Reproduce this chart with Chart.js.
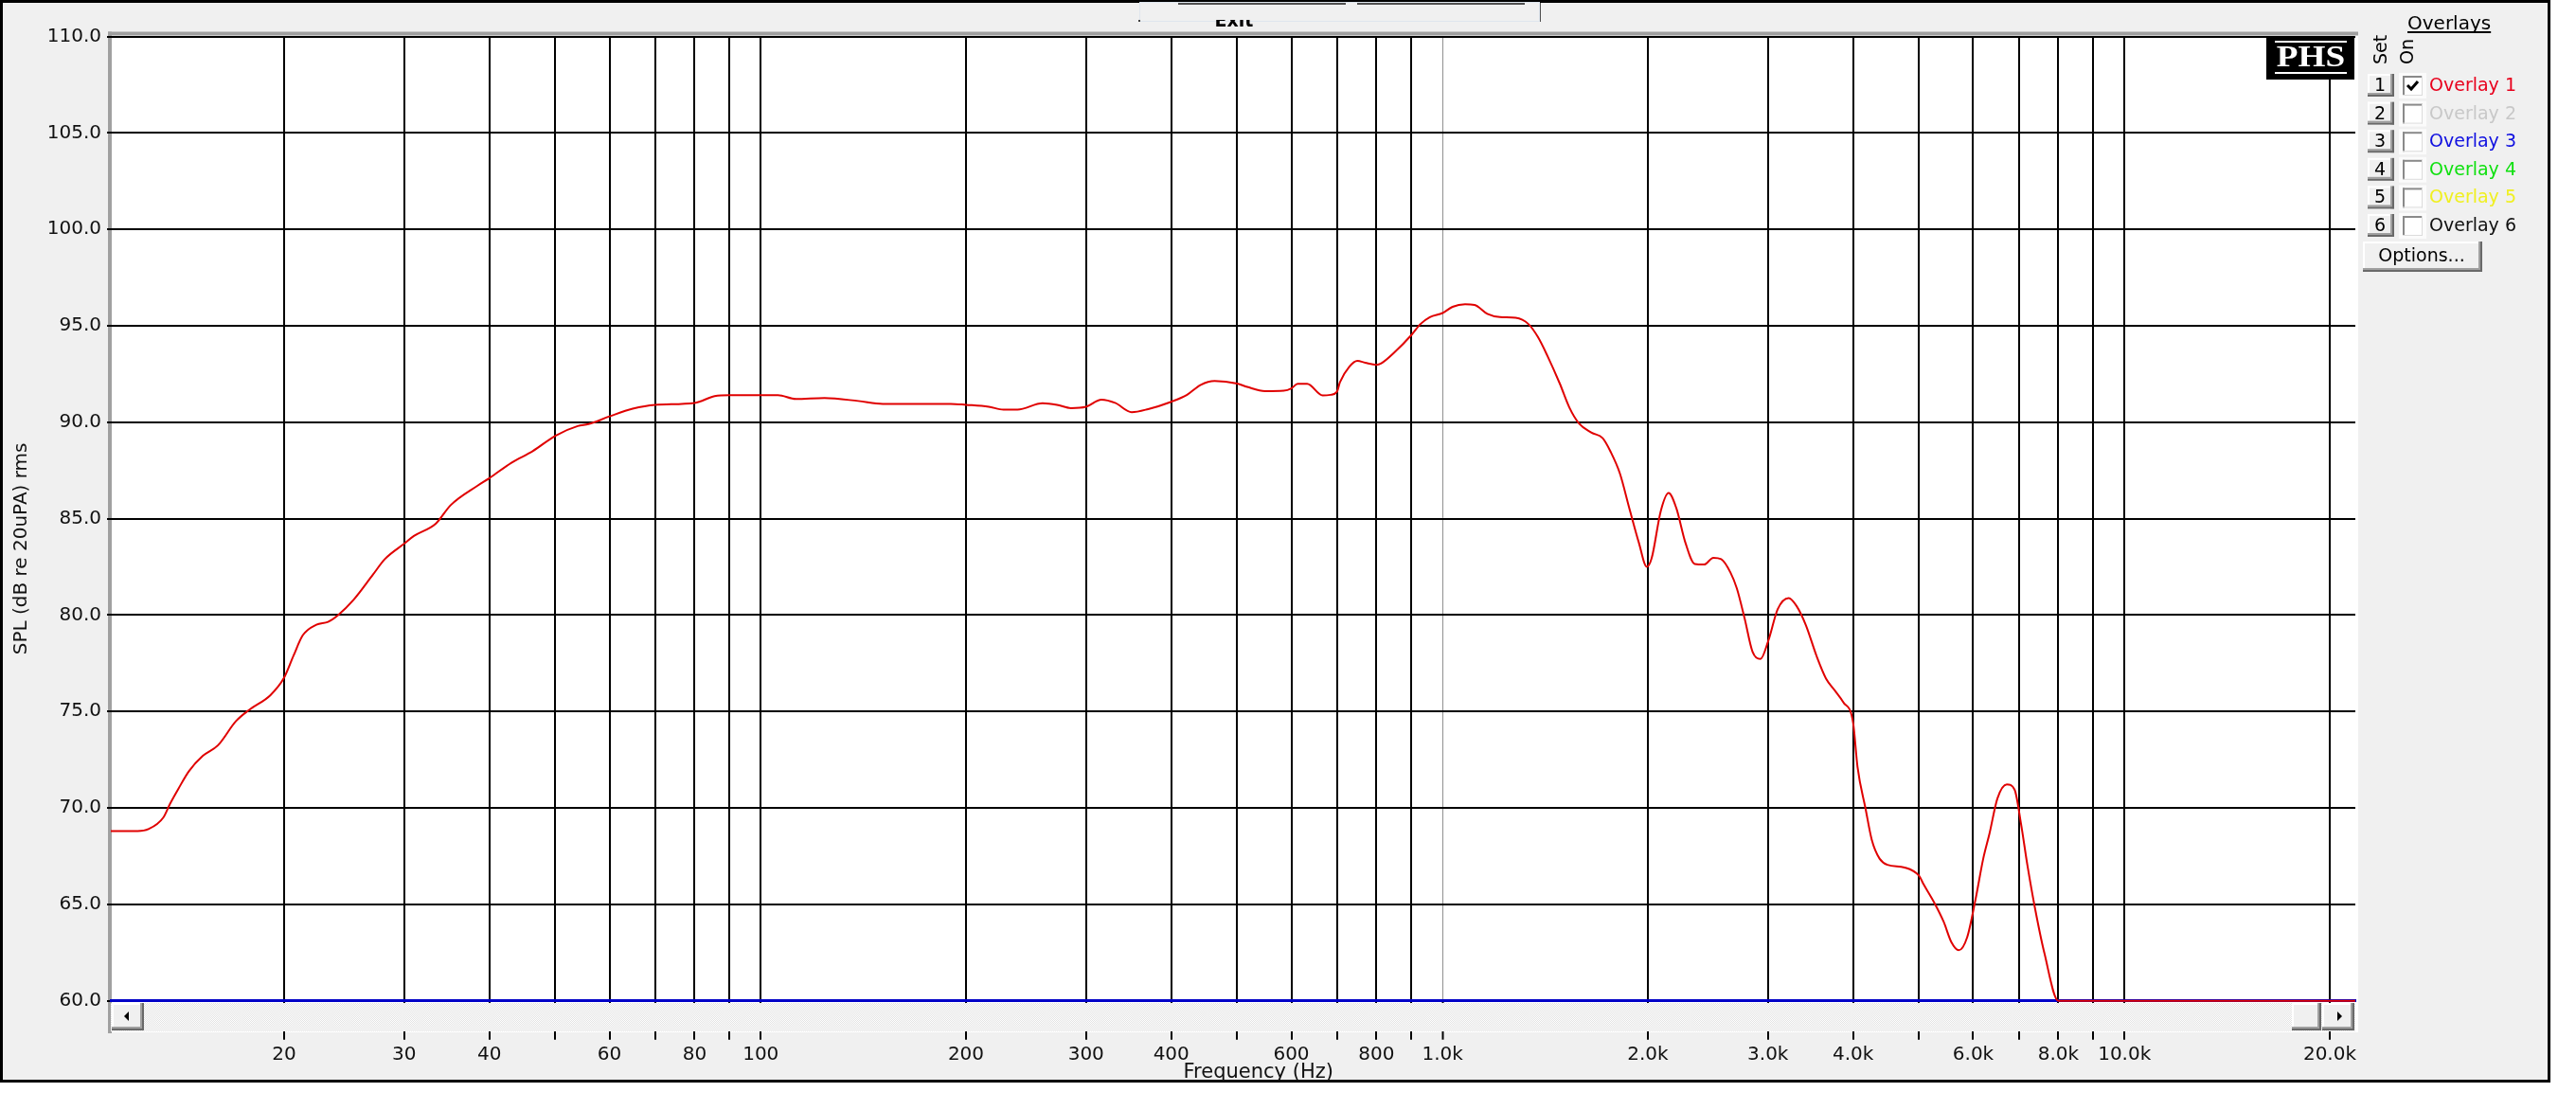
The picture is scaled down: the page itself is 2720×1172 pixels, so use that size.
<!DOCTYPE html>
<html>
<head>
<meta charset="utf-8">
<script src="https://cdn.jsdelivr.net/npm/chart.js@4.4.1/dist/chart.umd.min.js"></script>
<style>
  html, body { margin: 0; padding: 0; background: #fff; }
</style>
</head>
<body>
<canvas id="myChart" width="2720" height="1172"></canvas>
<script>
// measured response (Hz / dB SPL)
const freqs = [11.14, 12.2, 12.65, 13.3, 13.6, 14.0, 14.5, 15.2, 16.0, 17.0, 17.8, 19.1, 20, 20.65, 21.3, 22.3, 23.2, 24.0, 25.3, 27.0,
  28.1, 30, 31.0, 33.4, 35.1, 38.4, 40, 43.1, 46.3, 50, 53.9, 55.9, 60, 64.9, 70, 80, 85.6, 90, 100, 106,
  112.6, 124, 139, 151, 190, 200, 216, 227, 238, 259, 272, 285, 300, 316, 331, 350, 370, 400, 422, 442,
  463, 500, 517, 549, 585, 600, 613, 633, 667, 685, 700, 707, 730, 750, 770, 800, 813, 850, 900, 928,
  958, 1000, 1034, 1079, 1114, 1163, 1214, 1280, 1336, 1379, 1424, 1486, 1534, 1584, 1654, 1717, 1763, 1820, 1878, 1940,
  1993, 2026, 2089, 2145, 2201, 2270, 2343, 2418, 2495, 2562, 2644, 2701, 2773, 2848, 2925, 3004, 3101, 3218, 3303, 3409,
  3537, 3650, 3768, 3870, 4000, 4060, 4170, 4260, 4374, 4491, 4758, 5000, 5071, 5262, 5430, 5576, 5714, 5880, 6046,
  6207, 6340, 6511, 6721, 6900, 7050, 7204, 7396, 7632, 8000, 21806];
const spl = [68.8, 68.8, 68.9, 69.5, 70.2, 71.0, 71.9, 72.7, 73.25, 74.5, 75.1, 75.85, 76.75, 77.9, 78.95, 79.5, 79.65, 80.0, 80.8, 82.1,
  82.9, 83.7, 84.1, 84.75, 85.7, 86.7, 87.1, 87.9, 88.5, 89.3, 89.8, 89.9, 90.3, 90.7, 90.9, 91.0, 91.35, 91.4, 91.4, 91.4,
  91.2, 91.25, 91.1, 90.95, 90.95, 90.9, 90.8, 90.65, 90.65, 90.98, 90.9, 90.73, 90.8, 91.17, 91.0, 90.52, 90.68, 91.06, 91.42, 91.94,
  92.14, 92.0, 91.83, 91.61, 91.63, 91.75, 91.99, 91.99, 91.39, 91.42, 91.58, 92.07, 92.88, 93.18, 93.08, 92.97, 93.05, 93.62, 94.52, 95.09,
  95.45, 95.66, 95.98, 96.11, 96.08, 95.62, 95.45, 95.41, 95.09, 94.43, 93.46, 91.99, 90.77, 89.95, 89.46, 89.17, 88.48, 87.34, 85.56, 83.76,
  82.5, 82.95, 85.39, 86.33, 85.56, 83.76, 82.65, 82.62, 82.97, 82.9, 82.2, 81.38, 79.82, 78.1, 77.72, 78.67, 80.31, 80.88, 80.48, 79.49,
  77.86, 76.71, 76.05, 75.48, 74.42, 72.12, 69.99, 68.35, 67.37, 67.05, 66.91, 66.47, 66.06, 65.08, 64.1, 63.03, 62.62, 63.3, 65.24,
  67.37, 68.68, 70.49, 71.22, 70.95, 69.2, 67.05, 64.76, 62.46, 60.0, 60.0];

// axis ticks
const gridFreqs = [20, 30, 40, 50, 60, 70, 80, 90, 100, 200, 300, 400, 500, 600, 700, 800, 900,
  1000, 2000, 3000, 4000, 5000, 6000, 7000, 8000, 9000, 10000, 20000];
const gridLabels = ['20', '30', '40', '', '60', '', '80', '', '100', '200', '300', '400', '', '600', '', '800', '',
  '1.0k', '2.0k', '3.0k', '4.0k', '', '6.0k', '', '8.0k', '', '10.0k', '20.0k'];
const splTicks = [60, 65, 70, 75, 80, 85, 90, 95, 100, 105, 110];

// overlay panel
const overlayNames = ['Overlay 1', 'Overlay 2', 'Overlay 3', 'Overlay 4', 'Overlay 5', 'Overlay 6'];
const overlayColors = ['#e8001c', '#c8c8c8', '#1010e0', '#10e010', '#f0f020', '#101010'];
const overlayOn = [true, false, false, false, false, false];

const FONT = '"DejaVu Sans", "Liberation Sans", sans-serif';

// windows-ish raised button
function button(ctx, x, y, w, h) {
    ctx.fillStyle = '#f0f0f0';
    ctx.fillRect(x, y, w, h);
    ctx.fillStyle = '#ffffff';
    ctx.fillRect(x, y, w, 2);
    ctx.fillRect(x, y, 2, h);
    ctx.fillStyle = '#a0a0a0';
    ctx.fillRect(x, y + h - 4, w, 2);
    ctx.fillRect(x + w - 4, y, 2, h);
    ctx.fillStyle = '#696969';
    ctx.fillRect(x, y + h - 2, w, 2);
    ctx.fillRect(x + w - 2, y, 2, h);
}

const pat = document.createElement('canvas');
pat.width = 2; pat.height = 2;
const pc = pat.getContext('2d');
pc.fillStyle = '#ffffff'; pc.fillRect(0, 0, 2, 2);
pc.fillStyle = '#e2e2e2'; pc.fillRect(0, 0, 1, 1); pc.fillRect(1, 1, 1, 1);

const chrome = {
    id: 'chrome',
    beforeDraw(chart) {
        const {ctx, chartArea: {left, top, right}} = chart;
        ctx.save();
        ctx.fillStyle = '#ffffff';
        ctx.fillRect(0, 0, chart.width, chart.height);
        ctx.fillStyle = '#f0f0f0';
        ctx.fillRect(0, 0, 2692, 1143);

        // plot + scroll area
        ctx.fillStyle = '#ffffff';
        ctx.fillRect(left, top - 2, right + 3 - left, 1090 - top + 2);
        ctx.fillStyle = '#a0a0a0';
        ctx.fillRect(left - 3, top - 5, right + 6 - left, 4);
        ctx.fillRect(left - 3, top - 5, 4, 1091 - top + 5);

        // window frame
        ctx.strokeStyle = '#000';
        ctx.lineWidth = 3;
        ctx.strokeRect(1.5, 1.5, 2690, 1140);

        // cut-off button strip at the top
        ctx.fillStyle = '#505050';
        ctx.fillRect(1244, 3, 177, 2);
        ctx.fillRect(1433, 3, 177, 2);
        ctx.fillRect(1625, 3, 2, 20);
        ctx.strokeStyle = '#dfe6ee';
        ctx.lineWidth = 1;
        ctx.strokeRect(1203.5, 2.5, 422, 20);
        ctx.fillStyle = '#404040';
        ctx.fillRect(1202, 21, 2, 2);
        ctx.beginPath();
        ctx.rect(1270, 21, 70, 10);
        ctx.clip();
        ctx.fillStyle = '#000';
        ctx.font = 'bold 19px ' + FONT;
        ctx.textAlign = 'center';
        ctx.textBaseline = 'alphabetic';
        ctx.fillText('Exit', 1303, 28);
        ctx.restore();
    },
    afterDatasetsDraw(chart) {
        const {ctx, chartArea: {left, right}} = chart;
        ctx.save();
        // scroll bar
        ctx.fillStyle = ctx.createPattern(pat, 'repeat');
        ctx.fillRect(left, 1059, right - left, 30);
        button(ctx, 118, 1059, 34, 29);
        button(ctx, 2420, 1059, 31, 29);
        button(ctx, 2452, 1059, 34, 29);
        ctx.fillStyle = '#000';
        ctx.beginPath();
        ctx.moveTo(131, 1073); ctx.lineTo(136, 1068); ctx.lineTo(136, 1078); ctx.closePath();
        ctx.fill();
        ctx.beginPath();
        ctx.moveTo(2473, 1073); ctx.lineTo(2468, 1068); ctx.lineTo(2468, 1078); ctx.closePath();
        ctx.fill();
        ctx.restore();
    },
    afterDraw(chart) {
        const {ctx} = chart;
        ctx.save();

        // PHS logo
        ctx.fillStyle = '#000';
        ctx.fillRect(2393, 39, 93, 45);
        ctx.fillStyle = '#fff';
        ctx.fillRect(2402, 43, 76, 2);
        ctx.fillRect(2402, 76, 76, 2);
        ctx.save();
        ctx.translate(2440, 61);
        ctx.scale(1.2, 1);
        ctx.font = 'bold 31px "Liberation Serif", "DejaVu Serif", serif';
        ctx.textAlign = 'center';
        ctx.textBaseline = 'middle';
        ctx.fillText('PHS', 0, 1);
        ctx.restore();

        // overlay panel
        ctx.font = '20px ' + FONT;
        ctx.fillStyle = '#000';
        ctx.textAlign = 'left';
        ctx.textBaseline = 'alphabetic';
        ctx.fillText('Overlays', 2542, 31);
        ctx.fillRect(2542, 33, ctx.measureText('Overlays').width, 2);

        ctx.font = '19px ' + FONT;
        for (const [txt, x] of [['Set', 2515], ['On', 2543]]) {
            ctx.save();
            ctx.translate(x, 68);
            ctx.rotate(-Math.PI / 2);
            ctx.textAlign = 'left';
            ctx.textBaseline = 'middle';
            ctx.fillText(txt, 0, 0);
            ctx.restore();
        }

        overlayNames.forEach((name, i) => {
            const cy = 90 + i * 29.6;
            button(ctx, 2500, cy - 12, 28, 24);
            ctx.fillStyle = '#000';
            ctx.textAlign = 'center';
            ctx.textBaseline = 'middle';
            ctx.fillText(String(i + 1), 2513, cy + 1);

            // check box
            ctx.fillStyle = '#fbfbfb';
            ctx.fillRect(2533, cy - 13, 29, 27);
            ctx.fillStyle = '#ffffff';
            ctx.fillRect(2537, cy - 10, 21, 21);
            ctx.fillStyle = '#8a8a8a';
            ctx.fillRect(2537, cy - 10, 21, 2);
            ctx.fillRect(2537, cy - 10, 2, 21);
            ctx.fillStyle = '#dcdcdc';
            ctx.fillRect(2537, cy + 10, 21, 1);
            ctx.fillRect(2557, cy - 10, 1, 21);
            if (overlayOn[i]) {
                ctx.strokeStyle = '#000';
                ctx.lineWidth = 3;
                ctx.beginPath();
                ctx.moveTo(2542, cy);
                ctx.lineTo(2546, cy + 4);
                ctx.lineTo(2553, cy - 4);
                ctx.stroke();
            }

            ctx.fillStyle = overlayColors[i];
            ctx.textAlign = 'left';
            ctx.fillText(name, 2565, cy + 1);
        });

        button(ctx, 2495, 255, 126, 32);
        ctx.fillStyle = '#000';
        ctx.textAlign = 'center';
        ctx.textBaseline = 'middle';
        ctx.fillText('Options...', 2557, 271);

        ctx.restore();
    }
};

const ctx = document.getElementById('myChart').getContext('2d');

const chart = new Chart(ctx, {
    type: 'line',
    data: {
        datasets: [{
            data: freqs.map((f, i) => ({x: f, y: spl[i]})),
            borderColor: '#e00000',
            borderWidth: 2,
            pointRadius: 0,
            cubicInterpolationMode: 'monotone',
            clip: false
        }]
    },
    options: {
        responsive: false,
        animation: false,
        devicePixelRatio: 1,
        layout: {padding: {left: 0, top: 38.5, right: 233, bottom: 0}},
        plugins: {
            legend: {display: false},
            tooltip: {enabled: false}
        },
        scales: {
            x: {
                type: 'logarithmic',
                min: 11.14,
                max: 21806,
                afterBuildTicks: s => { s.ticks = gridFreqs.map(v => ({value: v})); },
                afterFit: s => { s.height = 1172 - 1056.7; },
                ticks: {
                    autoSkip: false,
                    maxRotation: 0,
                    minRotation: 0,
                    padding: 6,
                    color: '#111',
                    font: {family: FONT, size: 20, lineHeight: 1},
                    callback: (v, i) => gridLabels[i]
                },
                grid: {
                    color: c => (c.tick && c.tick.value === 1000) ? '#909090' : '#000',
                    lineWidth: c => (c.tick && c.tick.value === 1000) ? 1 : 2,
                    tickLength: 41,
                    tickColor: '#000',
                    tickWidth: 2
                },
                border: {color: '#0000c8', width: 3},
                title: {
                    display: true,
                    text: '        Frequency (Hz)',
                    color: '#111',
                    font: {family: FONT, size: 21},
                    padding: {top: 0, bottom: 27}
                }
            },
            y: {
                min: 60,
                max: 110,
                afterBuildTicks: s => { s.ticks = splTicks.map(v => ({value: v})); },
                afterFit: s => { s.width = 117; },
                ticks: {
                    padding: 6,
                    color: '#111',
                    font: {family: FONT, size: 20},
                    callback: v => v.toFixed(1)
                },
                grid: {color: '#000', lineWidth: 2, tickLength: 4},
                border: {display: false},
                title: {
                    display: true,
                    text: 'SPL (dB re 20uPA) rms          ',
                    color: '#111',
                    font: {family: FONT, size: 20},
                    padding: {top: 11, bottom: 0}
                }
            }
        }
    },
    plugins: [chrome]
});
</script>
</body>
</html>
